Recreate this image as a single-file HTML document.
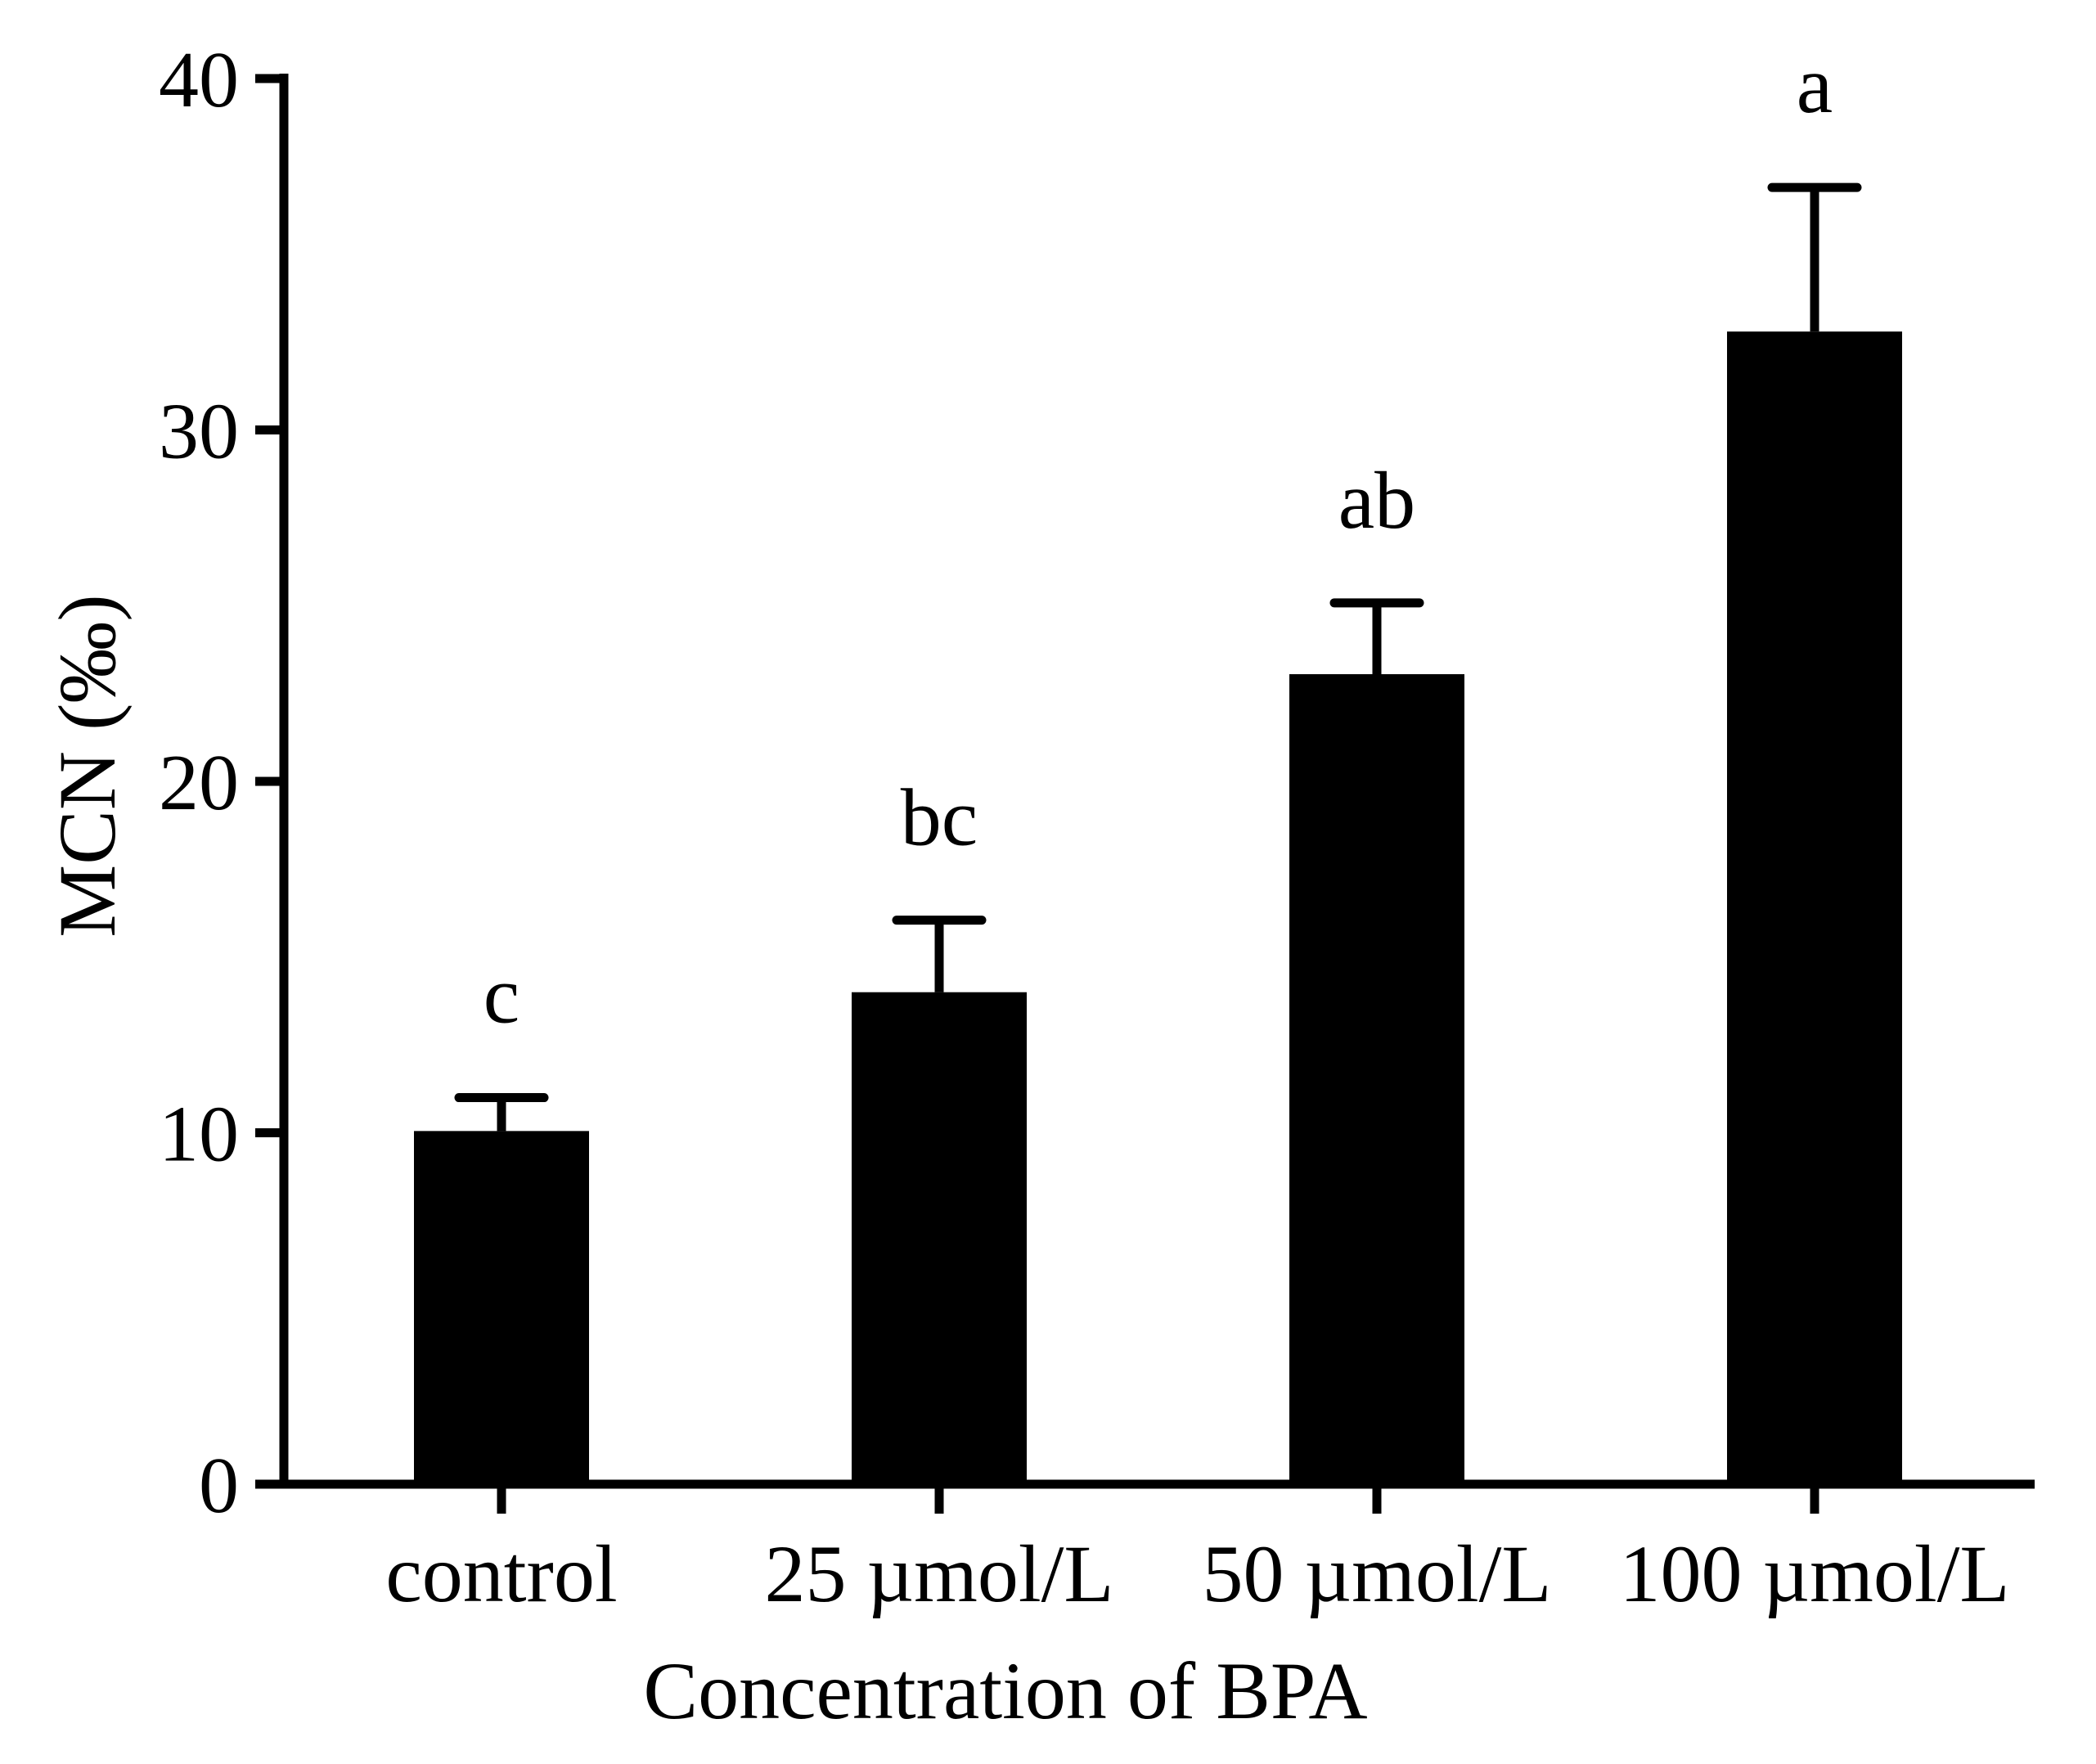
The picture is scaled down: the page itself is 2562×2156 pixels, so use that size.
<!DOCTYPE html>
<html><head><meta charset="utf-8"><style>
html,body{margin:0;padding:0;background:#fff;}
svg{display:block;}
text{font-family:"Liberation Serif",serif;fill:#000;}
</style></head><body>
<svg id="chart" width="2562" height="2156" viewBox="0 0 2562 2156">
<g id="axes"></g>
<g id="bars"></g>
<g id="labels"></g>
</svg>
<script>
const categories = ["control", "25 µmol/L", "50 µmol/L", "100 µmol/L"];
const values = [10.05, 14.0, 23.05, 32.8];
const errors = [0.95, 2.05, 2.03, 4.1];
const letters = ["c", "bc", "ab", "a"];
const yTicks = [0, 10, 20, 30, 40];

const NS = "http://www.w3.org/2000/svg";
const y0 = 1814, pxPerUnit = 42.95;
const axisX = 347, xStart = 613, xStep = 535;
const y = v => y0 - v * pxPerUnit;
const x = i => xStart + i * xStep;
function mk(tag, attrs, parent) {
  const e = document.createElementNS(NS, tag);
  for (const k in attrs) e.setAttribute(k, attrs[k]);
  parent.appendChild(e);
  return e;
}
const axes = document.getElementById("axes");
const bars = document.getElementById("bars");
const labels = document.getElementById("labels");

let ya = mk("line", {x1: axisX, y1: y(40) - 6, x2: axisX, y2: y0 + 5, stroke: "#000", "stroke-width": 11}, axes);


let xa = mk("line", {x1: 312, y1: y0, x2: 2487, y2: y0, stroke: "#000", "stroke-width": 11}, axes);



yTicks.forEach(t => {
  let tk = mk("line", {x1: 312, y1: y(t), x2: axisX, y2: y(t), stroke: "#000", "stroke-width": 11}, axes);
  
  
  let tl = mk("text", {x: 292, y: y(t) + 34, "text-anchor": "end", "font-size": 98}, axes);
  tl.textContent = t;
  
  
});

categories.forEach((c, i) => {
  const cx = x(i), w = 214;
  let b = mk("rect", {x: cx - w / 2, y: y(values[i]), width: w, height: y0 - y(values[i]), fill: "#000"}, bars);
  
  
  const top = y(values[i] + errors[i]);
  let ev = mk("line", {x1: cx, y1: y(values[i]), x2: cx, y2: top, stroke: "#000", "stroke-width": 11}, bars);
  
  
  let ec = mk("line", {x1: cx - 52, y1: top, x2: cx + 52, y2: top, stroke: "#000", "stroke-width": 11, "stroke-linecap": "round"}, bars);
  
  
  let tk = mk("line", {x1: cx, y1: y0, x2: cx, y2: y0 + 36, stroke: "#000", "stroke-width": 11}, axes);
  
  
  let cl = mk("text", {x: cx, y: 1957, "text-anchor": "middle", "font-size": 100}, labels);
  cl.textContent = c;
  
  
  let lt = mk("text", {x: cx, y: top - 92, "text-anchor": "middle", "font-size": 100}, labels);
  lt.textContent = letters[i];
  
  
});

let xt = mk("text", {x: 1229, y: 2100, "text-anchor": "middle", "font-size": 100}, labels);
xt.textContent = "Concentration of BPA";


let yt = mk("text", {x: 0, y: 0, "text-anchor": "middle", "font-size": 100, transform: "translate(140,936) rotate(-90)"}, labels);
yt.textContent = "MCN (‰)";


</script>
</body></html>
